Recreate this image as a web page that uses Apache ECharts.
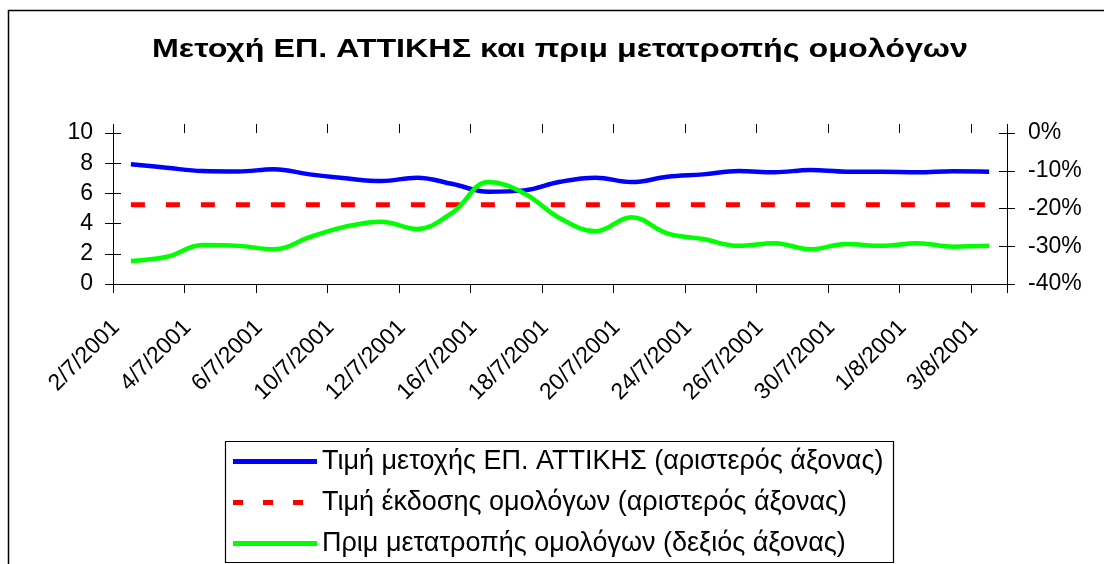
<!DOCTYPE html>
<html>
<head>
<meta charset="utf-8">
<script src="https://cdn.jsdelivr.net/npm/echarts@6/dist/echarts.min.js"></script>
<style>
html,body{margin:0;padding:0;background:#fff;}
#chart{width:1104px;height:564px;}
</style>
</head>
<body>
<div id="chart"></div>
<script>
const titleText = 'Μετοχή ΕΠ. ΑΤΤΙΚΗΣ και πριμ μετατροπής ομολόγων';
const categories = ['2/7/2001','3/7/2001','4/7/2001','5/7/2001','6/7/2001','9/7/2001','10/7/2001','11/7/2001','12/7/2001','13/7/2001','16/7/2001','17/7/2001','18/7/2001','19/7/2001','20/7/2001','23/7/2001','24/7/2001','25/7/2001','26/7/2001','27/7/2001','30/7/2001','31/7/2001','1/8/2001','2/8/2001','3/8/2001'];
const seriesNames = ['Τιμή μετοχής ΕΠ. ΑΤΤΙΚΗΣ (αριστερός άξονας)','Τιμή έκδοσης ομολόγων (αριστερός άξονας)','Πριμ μετατροπής ομολόγων (δεξιός άξονας)'];
const sharePrice = [7.93,7.70,7.48,7.45,7.60,7.26,7.00,6.82,7.04,6.62,6.11,6.20,6.77,7.04,6.75,7.10,7.26,7.48,7.40,7.55,7.44,7.44,7.40,7.47,7.44];
const issuePrice = [5.25,5.25,5.25,5.25,5.25,5.25,5.25,5.25,5.25,5.25,5.25,5.25,5.25,5.25,5.25,5.25,5.25,5.25,5.25,5.25,5.25,5.25,5.25,5.25,5.25];
const premium = [-33.9,-32.8,-29.7,-29.9,-30.8,-27.6,-24.8,-23.5,-25.4,-21.0,-13.0,-16.0,-22.6,-26.0,-22.3,-26.6,-28.1,-29.9,-29.2,-30.8,-29.4,-29.9,-29.2,-30.1,-29.9];
const leftTicks = {min:0, max:10, interval:2};
const rightTicks = {min:-40, max:0, interval:10};

const FONT = '"Liberation Sans", Arial, sans-serif';
const chart = echarts.init(document.getElementById('chart'), null, {renderer:'canvas'});

const baseY = {
  type:'value', splitLine:{show:false},
  axisLine:{show:true, lineStyle:{color:'#000', width:1}},
  axisTick:{show:true, length:8, lineStyle:{color:'#000', width:1}},
  axisLabel:{color:'#000', fontFamily:FONT, fontSize:23}
};
const solidIcon = 'path://M0,0L84,0L84,5L0,5Z';
const dashIcon = 'path://M0,0L10,0L10,5L0,5Z M30,0L40,0L40,5L30,5Z M60,0L70,0L70,5L60,5Z M83.9,2.45L84,2.45L84,2.55L83.9,2.55Z';

chart.setOption({
  animation:false,
  backgroundColor:'#fff',
  grid:{left:113, right:97, top:133, bottom:280, containLabel:false},
  legend:{
    orient:'vertical', left:233, top:448,
    itemWidth:84, itemHeight:14, itemGap:14, padding:0,
    textStyle:{fontFamily:FONT, fontSize:27, color:'#000', lineHeight:26},
    data:[
      {name:seriesNames[0], icon:solidIcon, itemStyle:{color:'#0000ff', borderWidth:0}},
      {name:seriesNames[1], icon:dashIcon, itemStyle:{color:'#ff0000', borderWidth:0}},
      {name:seriesNames[2], icon:solidIcon, itemStyle:{color:'#00ff00', borderWidth:0}}
    ]
  },
  xAxis:[
    {
      type:'category', data:categories, boundaryGap:true, position:'bottom',
      axisLine:{show:true, lineStyle:{color:'#000', width:1}},
      axisTick:{show:true, interval:1, length:9, lineStyle:{color:'#000'}},
      axisLabel:{interval:1, rotate:45, margin:25, padding:[0,21,0,0], color:'#000', fontFamily:FONT, fontSize:23},
      splitLine:{show:false}
    },
    {
      type:'category', data:categories, boundaryGap:true, position:'bottom',
      axisLine:{show:false},
      axisTick:{show:true, inside:true, interval:1, length:9, lineStyle:{color:'#000'}},
      axisLabel:{show:false}, splitLine:{show:false}
    }
  ],
  yAxis:[
    Object.assign({}, baseY, {position:'left', min:leftTicks.min, max:leftTicks.max, interval:leftTicks.interval,
      axisLabel:Object.assign({}, baseY.axisLabel, {margin:20})}),
    Object.assign({}, baseY, {position:'right', min:rightTicks.min, max:rightTicks.max, interval:rightTicks.interval,
      axisLabel:Object.assign({}, baseY.axisLabel, {margin:21, formatter:'{value}%'})}),
    Object.assign({}, baseY, {position:'left', min:leftTicks.min, max:leftTicks.max, interval:leftTicks.interval,
      axisLine:{show:false}, axisTick:{show:true, inside:true, length:8, lineStyle:{color:'#000'}}, axisLabel:{show:false}}),
    Object.assign({}, baseY, {position:'right', min:rightTicks.min, max:rightTicks.max, interval:rightTicks.interval,
      axisLine:{show:false}, axisTick:{show:true, inside:true, length:8, lineStyle:{color:'#000'}}, axisLabel:{show:false}})
  ],
  graphic:[
    {type:'rect', silent:true, z:-10, shape:{x:8.5, y:10.5, width:1200, height:700}, style:{fill:'none', stroke:'#000', lineWidth:1.5}},
    {type:'rect', silent:true, z:-10, shape:{x:225.5, y:441.5, width:668, height:121}, style:{fill:'none', stroke:'#000', lineWidth:1.2}},
    {type:'text', silent:true, x:560, y:50, scaleX:1.29, scaleY:1,
      style:{text:titleText, fill:'#000', font:'bold 25px "Liberation Sans", Arial, sans-serif', align:'center', verticalAlign:'middle'}}
  ],
  series:[
    {name:seriesNames[0], type:'line', yAxisIndex:0, data:sharePrice, smooth:0.4, symbol:'none',
      lineStyle:{color:'#0000ff', width:4.5}, itemStyle:{color:'#0000ff'}},
    {name:seriesNames[1], type:'line', yAxisIndex:0, data:issuePrice, smooth:false, symbol:'none',
      lineStyle:{color:'#ff0000', width:5, type:[14,21]}, itemStyle:{color:'#ff0000'}},
    {name:seriesNames[2], type:'line', yAxisIndex:1, data:premium, smooth:0.4, symbol:'none',
      lineStyle:{color:'#00ff00', width:4.5}, itemStyle:{color:'#00ff00'}}
  ]
});
</script>
</body>
</html>
